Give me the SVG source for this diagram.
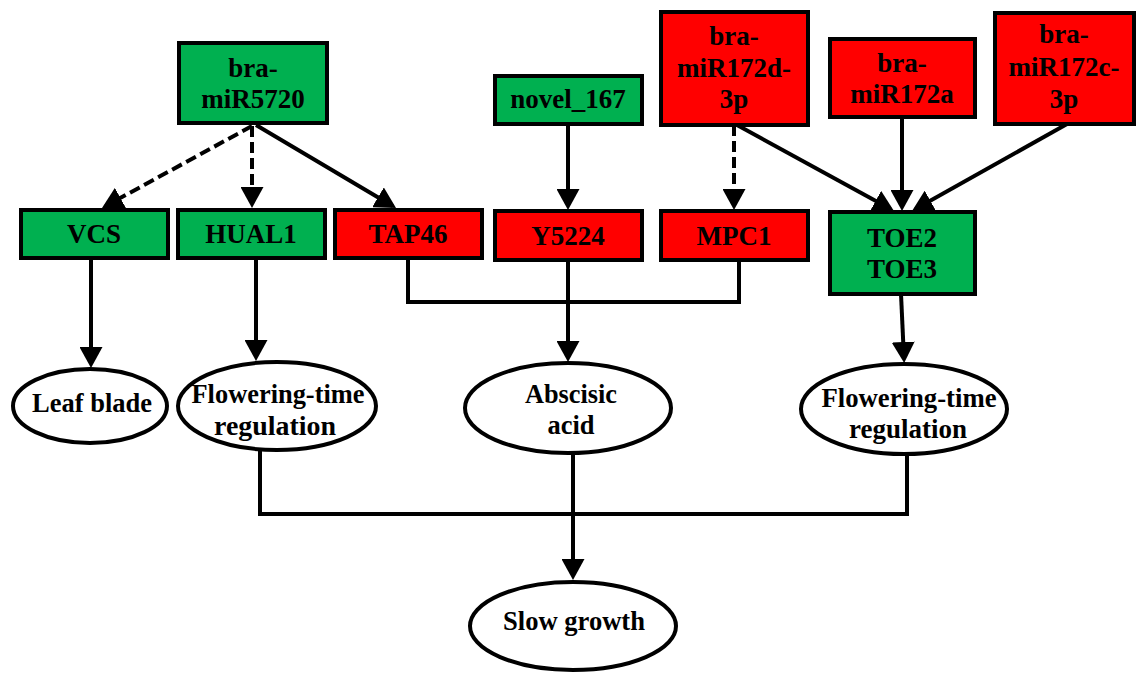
<svg xmlns="http://www.w3.org/2000/svg" width="1136" height="673" viewBox="0 0 1136 673">
<style>
.g{fill:#00B050;stroke:#000;stroke-width:4}
.r{fill:#FF0000;stroke:#000;stroke-width:4}
.e{fill:#fff;stroke:#000;stroke-width:4}
.t{font-family:"Liberation Serif","Times New Roman",serif;font-weight:bold;font-size:27px;text-anchor:middle;fill:#000}
.te{font-family:"Liberation Serif","Times New Roman",serif;font-weight:bold;font-size:28px;text-anchor:middle;fill:#000}
.c{fill:none;stroke:#000;stroke-width:4}
.a{marker-end:url(#ah)}
.d{stroke-dasharray:11 5}
</style>
<defs>
<marker id="ah" markerUnits="userSpaceOnUse" markerWidth="21" markerHeight="23" refX="17" refY="11.5" orient="auto" viewBox="0 0 21 23">
<path d="M0,0 L21,11.5 L0,23 z" fill="#000"/>
</marker>
</defs>
<g id="connectors">
<line class="c a d" x1="252" y1="126" x2="105.5" y2="206.1"/>
<line class="c a d" x1="252" y1="126" x2="252" y2="204"/>
<line class="c a" x1="256" y1="125" x2="392.6" y2="206"/>
<line class="c a" x1="568" y1="124" x2="568" y2="206"/>
<line class="c a d" x1="734" y1="125" x2="734" y2="206"/>
<line class="c a" x1="737" y1="125" x2="890.5" y2="209.1"/>
<line class="c a" x1="902" y1="117" x2="902" y2="207"/>
<line class="c a" x1="1067" y1="124" x2="915.5" y2="209"/>
<line class="c a" x1="91" y1="258" x2="91" y2="364"/>
<line class="c a" x1="256" y1="258" x2="256" y2="357"/>
<polyline class="c" points="408,259 408,302 739,302 739,260"/>
<line class="c a" x1="568" y1="260" x2="568" y2="358"/>
<line class="c a" x1="901" y1="294" x2="904" y2="359"/>
<polyline class="c" points="260,450 260,514 907,514 907,454"/>
<line class="c a" x1="573" y1="453" x2="573" y2="576"/>
</g>
<g id="n-miR5720"><rect class="g" x="179" y="43" width="148" height="80"/><text class="t" x="253" y="77">bra-</text><text class="t" x="253" y="108">miR5720</text></g>
<g id="n-novel167"><rect class="g" x="495" y="76" width="147" height="48"/><text class="t" x="568" y="108">novel_167</text></g>
<g id="n-miR172d"><rect class="r" x="661" y="12" width="147" height="113"/><text class="t" x="734" y="45">bra-</text><text class="t" x="734" y="77">miR172d-</text><text class="t" x="734" y="108">3p</text></g>
<g id="n-miR172a"><rect class="r" x="830" y="39" width="145" height="78"/><text class="t" x="902" y="72">bra-</text><text class="t" x="902" y="103">miR172a</text></g>
<g id="n-miR172c"><rect class="r" x="995" y="13" width="139" height="111"/><text class="t" x="1064" y="43">bra-</text><text class="t" x="1064" y="76">miR172c-</text><text class="t" x="1064" y="108">3p</text></g>
<g id="n-VCS"><rect class="g" x="21" y="210" width="147" height="48"/><text class="t" x="94" y="243">VCS</text></g>
<g id="n-HUAL1"><rect class="g" x="178" y="210" width="147" height="48"/><text class="t" x="251" y="243">HUAL1</text></g>
<g id="n-TAP46"><rect class="r" x="335" y="210" width="147" height="48"/><text class="t" x="408" y="243">TAP46</text></g>
<g id="n-Y5224"><rect class="r" x="495" y="211" width="147" height="49"/><text class="t" x="568" y="245">Y5224</text></g>
<g id="n-MPC1"><rect class="r" x="661" y="211" width="147" height="49"/><text class="t" x="734" y="245">MPC1</text></g>
<g id="n-TOE"><rect class="g" x="830" y="212" width="145" height="82"/><text class="t" x="902" y="247">TOE2</text><text class="t" x="902" y="278">TOE3</text></g>
<g id="n-leaf"><ellipse class="e" cx="90" cy="406" rx="77" ry="37"/><text class="te" x="92" y="412" textLength="120" lengthAdjust="spacingAndGlyphs">Leaf blade</text></g>
<g id="n-flow1"><ellipse class="e" cx="277" cy="406" rx="99" ry="44"/><text class="te" x="278" y="403" textLength="173" lengthAdjust="spacingAndGlyphs">Flowering-time</text><text class="te" x="275" y="435" textLength="122" lengthAdjust="spacingAndGlyphs">regulation</text></g>
<g id="n-aba"><ellipse class="e" cx="568" cy="408" rx="103" ry="45"/><text class="te" x="571" y="403" textLength="92" lengthAdjust="spacingAndGlyphs">Abscisic</text><text class="te" x="571" y="434" textLength="47" lengthAdjust="spacingAndGlyphs">acid</text></g>
<g id="n-flow2"><ellipse class="e" cx="904" cy="409" rx="103" ry="45"/><text class="te" x="909" y="407" textLength="175" lengthAdjust="spacingAndGlyphs">Flowering-time</text><text class="te" x="908" y="438" textLength="118" lengthAdjust="spacingAndGlyphs">regulation</text></g>
<g id="n-slow"><ellipse class="e" cx="573" cy="626" rx="103" ry="44"/><text class="te" x="574" y="630" textLength="142" lengthAdjust="spacingAndGlyphs">Slow growth</text></g>
</svg>
